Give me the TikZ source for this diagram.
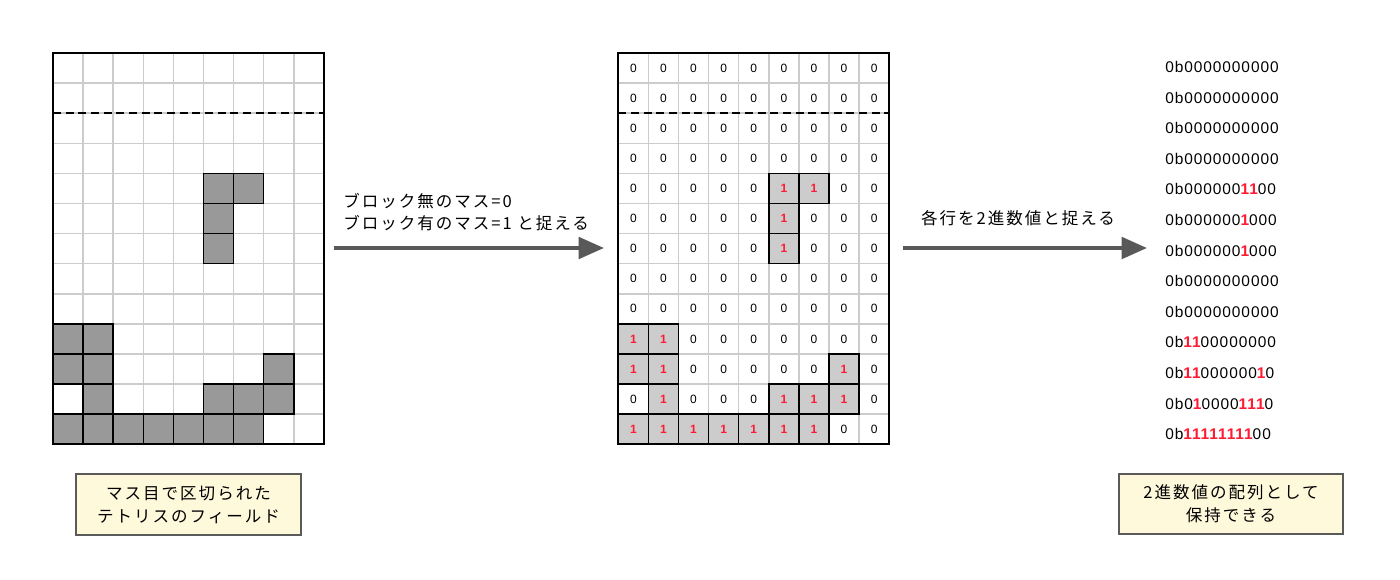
\documentclass[tikz,border=0pt]{standalone}
\usepackage{fontspec}
\setmainfont{Liberation Sans}
\newfontfamily\jp{Noto Sans CJK JP}[LetterSpace=12]
\newfontfamily\binf{Liberation Sans}[LetterSpace=6]
\usetikzlibrary{arrows.meta}
\definecolor{gridc}{HTML}{CCCCCC}
\definecolor{blockdark}{HTML}{999999}
\definecolor{blocklight}{HTML}{CCCCCC}
\definecolor{arrowc}{HTML}{595959}
\definecolor{notec}{HTML}{FFF9DC}
\definecolor{noteb}{HTML}{5A5A5A}
\definecolor{onec}{HTML}{FF1A33}
\newcommand\one[1]{\textcolor{onec}{\bfseries #1}}
\def\field{{0,0,0,0,0,0,0,0,0},{0,0,0,0,0,0,0,0,0},{0,0,0,0,0,0,0,0,0},{0,0,0,0,0,0,0,0,0},{0,0,0,0,0,1,1,0,0},{0,0,0,0,0,1,0,0,0},{0,0,0,0,0,1,0,0,0},{0,0,0,0,0,0,0,0,0},{0,0,0,0,0,0,0,0,0},{1,1,0,0,0,0,0,0,0},{1,1,0,0,0,0,0,1,0},{0,1,0,0,0,1,1,1,0},{1,1,1,1,1,1,1,0,0}}
\def\cw{30.1}
\def\xL{53}
\def\xM{618.3}
\def\yT{53}
\tikzset{
  gridline/.style={draw=gridc, line width=1.1pt},
  blockA/.style={fill=blockdark, draw=black, line width=1.1pt},
  blockB/.style={fill=blocklight, draw=black, line width=1.1pt},
  frame/.style={draw=black, line width=1.5pt},
  dashline/.style={draw=black, line width=1.5pt, dash pattern=on 6pt off 3.5pt},
  zerodigit/.style={inner sep=0pt, font=\fontsize{9pt}{11pt}\selectfont},
  onedigit/.style={inner sep=0pt, text=onec, font=\fontsize{9pt}{11pt}\selectfont\bfseries},
  bintext/.style={inner sep=0pt, anchor=base west, font=\binf\fontsize{11.6pt}{13pt}\selectfont},
  jptext/.style={inner sep=0pt, font=\jp\fontsize{12.4pt}{16.5pt}\selectfont},
  notebox/.style={draw=noteb, fill=notec, line width=1.1pt, align=center, inner sep=0pt,
    font=\jp\fontsize{12.4pt}{17.25pt}\selectfont},
  bigarrow/.style={draw=arrowc, line width=3pt, -{Triangle[length=19pt,width=16pt]}, arrowc}
}
\begin{document}
\begin{tikzpicture}[x=0.75pt, y=-0.75pt]
\useasboundingbox (0,0) rectangle (1400,579);
\fill[white] (0,0) rectangle (1400,579);
% grid lines
\foreach \gx in {\xL,\xM}{
  \foreach \i in {1,...,8}
    \draw[gridline] ({\gx+\cw*\i},\yT) -- ({\gx+\cw*\i},{\yT+13*\cw});
  \foreach \j in {1,...,12}
    \draw[gridline] (\gx,{\yT+\cw*\j}) -- ({\gx+9*\cw},{\yT+\cw*\j});
}
% cells
\foreach \row [count=\r] in \field {
  \foreach \v [count=\c] in \row {
    \ifnum\v=1
      \draw[blockA] ({\xL+\cw*(\c-1)},{\yT+\cw*(\r-1)}) rectangle ++(\cw,\cw);
      \draw[blockB] ({\xM+\cw*(\c-1)},{\yT+\cw*(\r-1)}) rectangle ++(\cw,\cw);
      \node[onedigit] (m-\r-\c) at ({\xM+\cw*(\c-0.5)},{\yT+\cw*(\r-0.5)}) {1};
    \else
      \node[zerodigit] (m-\r-\c) at ({\xM+\cw*(\c-0.5)},{\yT+\cw*(\r-0.5)}) {0};
    \fi
  }
}
% frames and dashed lines
\draw[frame] (\xL,\yT) rectangle ({\xL+9*\cw},{\yT+13*\cw});
\draw[frame] (\xM,\yT) rectangle ({\xM+9*\cw},{\yT+13*\cw});
\draw[dashline] (\xL,{\yT+2*\cw}) -- ({\xL+9*\cw},{\yT+2*\cw});
\draw[dashline] (\xM,{\yT+2*\cw}) -- ({\xM+9*\cw},{\yT+2*\cw});
% binary values
\foreach \t [count=\r] in {0b0000000000,0b0000000000,0b0000000000,0b0000000000,
  0b000000\one{11}00,0b000000\one{1}000,0b000000\one{1}000,0b0000000000,0b0000000000,
  0b\one{11}00000000,0b\one{11}000000\one{1}0,0b0\one{1}0000\one{111}0,0b\one{11111111}00}
  \node[bintext] (b-\r) at (1165,{72.5+30.6*(\r-1)}) {\t};
% labels
\node[jptext, anchor=west, align=left] (lbl1) at (343,212) {ブロック無のマス=0\\ブロック有のマス=1 と捉える};
\node[jptext] (lbl2) at (1018,218) {各行を2進数値と捉える};
% arrows
\coordinate (a1s) at (334,248);
\coordinate (a1e) at (604,248);
\coordinate (a2s) at (903,248);
\coordinate (a2e) at (1147,248);
\draw[bigarrow] (a1s) -- (a1e);
\draw[bigarrow] (a2s) -- (a2e);
% notes
\node[notebox, minimum width=168.75pt, minimum height=45.75pt] (note1) at (188.5,504.5) {マス目で区切られた\\テトリスのフィールド};
\node[notebox, minimum width=168pt, minimum height=45pt] (note2) at (1231,504) {2進数値の配列として\\保持できる};
\end{tikzpicture}
\end{document}
